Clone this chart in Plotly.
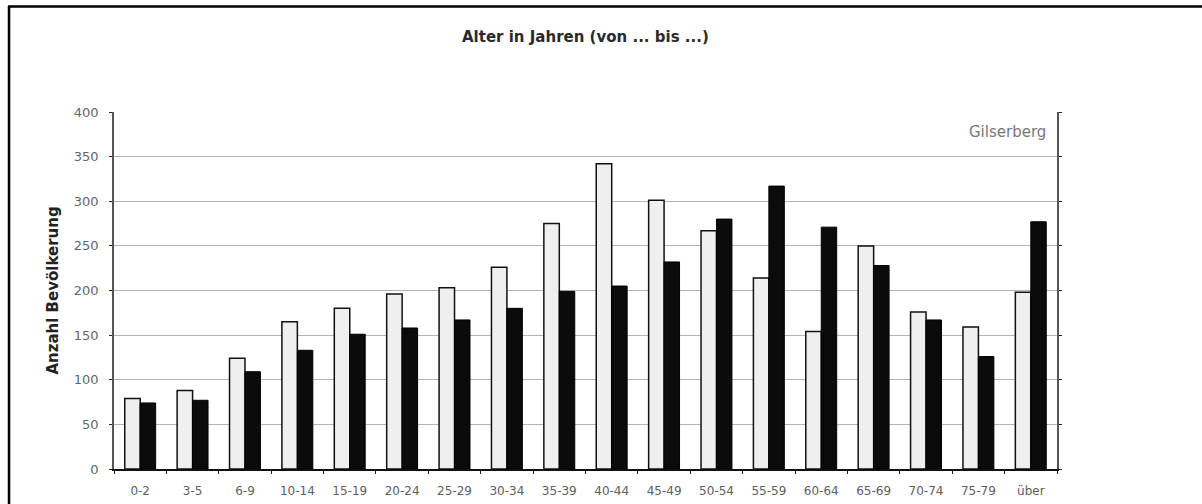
import plotly.graph_objects as go

categories = ["0-2", "3-5", "6-9", "10-14", "15-19", "20-24", "25-29", "30-34", "35-39",
              "40-44", "45-49", "50-54", "55-59", "60-64", "65-69", "70-74", "75-79", "über"]
series_light = [79, 88, 124, 165, 180, 196, 203, 226, 275, 342, 301, 267, 214, 154, 250, 176, 159, 198]
series_dark = [74, 77, 109, 133, 151, 158, 167, 180, 199, 205, 232, 280, 317, 271, 228, 167, 126, 277]
y_ticks = [0, 50, 100, 150, 200, 250, 300, 350, 400]

title_text = "Alter in Jahren (von ... bis ...)"
y_title = "Anzahl Bevölkerung"
place_label = "Gilserberg"

fig = go.Figure()
fig.add_trace(go.Bar(x=categories, y=series_light, name="A",
                     marker=dict(color="#efefef", line=dict(color="#111111", width=1.5))))
fig.add_trace(go.Bar(x=categories, y=series_dark, name="B",
                     marker=dict(color="#0b0b0b", line=dict(color="#000000", width=1))))

L, R, T, B = 114, 145, 112, 35
W, H = 1202, 504
pw, ph = W - L - R, H - T - B

def px_to_paper_x(px):
    return (px - L) / pw

def px_to_paper_y(py):
    return (H - B - py) / ph

fig.update_layout(
    width=W, height=H,
    margin=dict(l=L, r=R, t=T, b=B),
    paper_bgcolor="white", plot_bgcolor="white",
    barmode="group", bargap=0.41, bargroupgap=0,
    showlegend=False,
    font=dict(family="DejaVu Sans", color="#555555"),
    xaxis=dict(
        type="category", tickson="boundaries", ticks="outside", ticklen=3,
        tickcolor="#222222", showline=True, linecolor="#111111", linewidth=1.5,
        tickfont=dict(size=12, color="#606060", family="DejaVu Sans"),
        ticklabelstandoff=10, automargin=False,
        showgrid=False, mirror=False,
    ),
    yaxis=dict(
        range=[0, 400], tickvals=y_ticks, ticks="outside", ticklen=3,
        tickcolor="#222222", showline=True, linecolor="#555555", linewidth=1.5,
        mirror="ticks", showgrid=True, gridcolor="#b4b4b4", gridwidth=1,
        tickfont=dict(size=13, color="#666666", family="DejaVu Sans"),
        ticklabelstandoff=8, automargin=False,
        title=dict(text=y_title, font=dict(size=15, color="#222222", family="DejaVu Sans", weight="bold"),
                   standoff=12),
        zeroline=False,
    ),
)

fig.add_annotation(text=title_text, xref="paper", yref="paper",
                   x=0.5, y=px_to_paper_y(37), xanchor="center", yanchor="middle",
                   showarrow=False, font=dict(size=15, color="#2a2a2a", family="DejaVu Sans", weight="bold"))
fig.add_annotation(text=place_label, xref="paper", yref="paper",
                   x=px_to_paper_x(1048), y=px_to_paper_y(132), xanchor="right", yanchor="middle",
                   showarrow=False, font=dict(size=15, color="#777777", family="DejaVu Sans"))

# outer frame (top and left edges)
fig.add_shape(type="line", xref="paper", yref="paper",
              x0=px_to_paper_x(8), x1=px_to_paper_x(1202), y0=px_to_paper_y(6.5), y1=px_to_paper_y(6.5),
              line=dict(color="#000000", width=2.5))
fig.add_shape(type="line", xref="paper", yref="paper",
              x0=px_to_paper_x(9), x1=px_to_paper_x(9), y0=px_to_paper_y(6), y1=px_to_paper_y(504),
              line=dict(color="#000000", width=2.5))

fig.write_html("out.html", config={"displayModeBar": False},
               post_script="document.body.style.margin='0';document.body.style.overflow='hidden';")
